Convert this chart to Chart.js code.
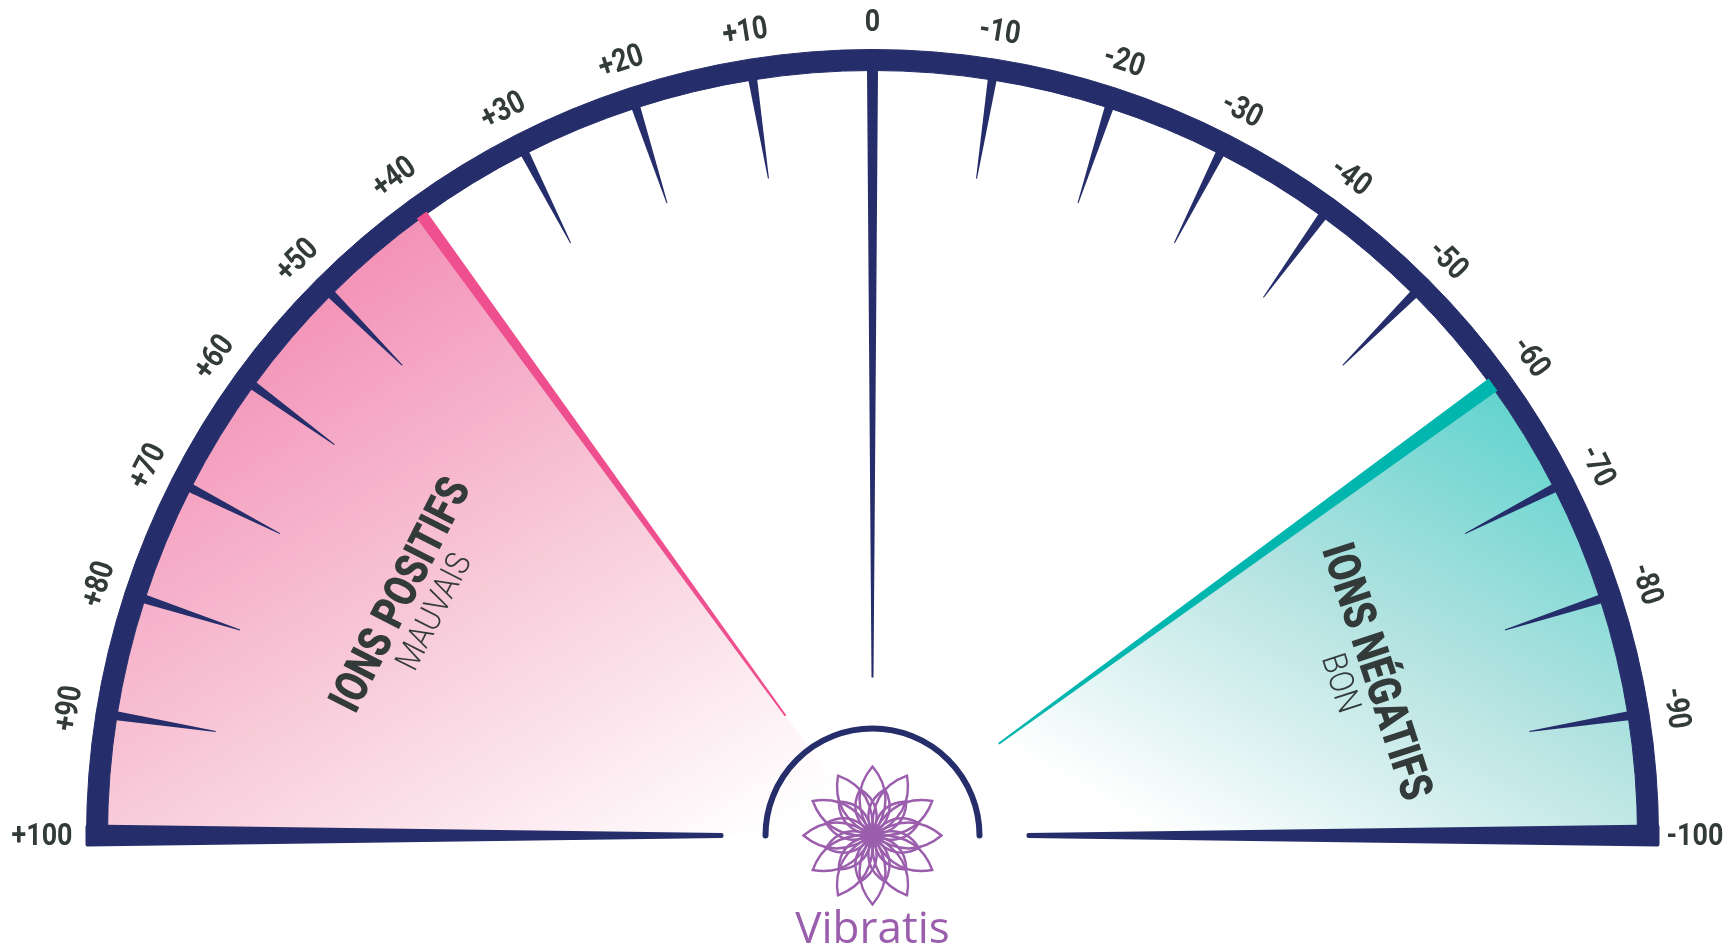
<!DOCTYPE html>
<html>
<head>
<meta charset="utf-8">
<title>Ions positifs / ions négatifs</title>
<script src="https://cdn.jsdelivr.net/npm/chart.js@4.4.1/dist/chart.umd.min.js"></script>
<style>
  html, body { margin: 0; padding: 0; background: #fff; }
  #jauge { display: block; }
</style>
</head>
<body>
<canvas id="jauge" width="1731" height="949"></canvas>
<script>
// graduations, de gauche (+100) a droite (-100)
const tickLabels = ['+100', '+90', '+80', '+70', '+60', '+50', '+40', '+30', '+20', '+10', '0',
                    '-10', '-20', '-30', '-40', '-50', '-60', '-70', '-80', '-90', '-100'];
const graduationSteps = [10, 10, 10, 10, 10, 10, 10, 10, 10, 10,
                         10, 10, 10, 10, 10, 10, 10, 10, 10, 10];
// zones : +100 -> +40, +40 -> -60, -60 -> -100
const zoneValues = [60, 100, 40];
const zoneTitles = ['IONS POSITIFS', '', 'IONS NÉGATIFS'];
const zoneSubtitles = ['MAUVAIS', '', 'BON'];
const brandName = 'Vibratis';

const NAVY = '#252d6a';
const TEXT = '#323a3a';
const PINK_LINE = '#ee4f8e';
const TEAL_LINE = '#00b6ae';
const PURPLE = '#9a5ead';
const DEG = Math.PI / 180;

const polar = (cx, cy, r, a) => ({ x: cx + r * Math.cos(a), y: cy + r * Math.sin(a) });

// trait effile le long d'un rayon
function wedge(ctx, cx, cy, a, r0, r1, w0, w1, color, rounded) {
    const p0 = polar(cx, cy, r0, a);
    const p1 = polar(cx, cy, r1, a);
    const nx = -Math.sin(a), ny = Math.cos(a);
    ctx.beginPath();
    ctx.moveTo(p0.x + nx * w0 / 2, p0.y + ny * w0 / 2);
    ctx.lineTo(p1.x + nx * w1 / 2, p1.y + ny * w1 / 2);
    ctx.lineTo(p1.x - nx * w1 / 2, p1.y - ny * w1 / 2);
    ctx.lineTo(p0.x - nx * w0 / 2, p0.y - ny * w0 / 2);
    ctx.closePath();
    ctx.fillStyle = color;
    ctx.fill();
    if (rounded) {
        ctx.save();
        ctx.strokeStyle = color;
        ctx.lineWidth = rounded;
        ctx.lineJoin = 'round';
        ctx.stroke();
        ctx.restore();
    }
}

function drawText(ctx, text, x, y, rot, size, weight, sx, color, align) {
    ctx.save();
    ctx.translate(x, y);
    ctx.rotate(rot);
    ctx.scale(sx, 1);
    ctx.font = weight + ' ' + size + 'px Roboto, "Noto Sans", sans-serif';
    ctx.fillStyle = color;
    ctx.textAlign = align || 'center';
    ctx.textBaseline = 'alphabetic';
    ctx.fillText(text, 0, size * 0.355);
    ctx.restore();
}

function petal(ctx, len, w) {
    ctx.beginPath();
    ctx.moveTo(0, 0);
    ctx.quadraticCurveTo(w, -len * 0.55, 0, -len);
    ctx.quadraticCurveTo(-w, -len * 0.55, 0, 0);
    ctx.stroke();
}

function drawLogo(ctx, cx, cy) {
    ctx.save();
    ctx.strokeStyle = NAVY;
    ctx.lineWidth = 6;
    ctx.lineCap = 'round';
    ctx.beginPath();
    ctx.arc(cx, cy, 107, Math.PI, 2 * Math.PI);
    ctx.stroke();

    ctx.translate(cx, cy);
    ctx.strokeStyle = PURPLE;
    ctx.lineWidth = 2.4;
    for (let k = 0; k < 12; k++) {
        ctx.save();
        ctx.rotate(k * 30 * DEG);
        petal(ctx, 69, 26);
        ctx.restore();
        ctx.save();
        ctx.rotate((k * 30 + 15) * DEG);
        petal(ctx, 48, 20);
        ctx.restore();
    }
    ctx.restore();

    ctx.save();
    ctx.font = '44px "Open Sans", "Noto Sans", sans-serif';
    ctx.fillStyle = PURPLE;
    ctx.textAlign = 'center';
    ctx.textBaseline = 'alphabetic';
    ctx.fillText(brandName, cx, cy + 107);
    ctx.restore();
}

const jaugePlugin = {
    id: 'jauge',
    afterDatasetsDraw(chart) {
        const ctx = chart.ctx;
        const band = chart.getDatasetMeta(0).data;
        const zones = chart.getDatasetMeta(1).data;
        const cx = band[0].x, cy = band[0].y;
        const rOut = band[0].outerRadius, rIn = band[0].innerRadius;
        const angles = [band[0].startAngle].concat(band.map(a => a.endAngle));
        const last = angles.length - 1;

        // graduations et aiguille du zero
        angles.forEach((a, i) => {
            if (i === 0 || i === last) return;
            if (tickLabels[i] === '0') wedge(ctx, cx, cy, a, rIn + 2, 158, 11, 2, NAVY);
            else wedge(ctx, cx, cy, a, rIn + 2, rIn - 100, 9, 1, NAVY);
        });

        // limites des zones
        wedge(ctx, cx, cy, zones[0].endAngle, rIn + 2, 148, 12, 2, PINK_LINE);
        wedge(ctx, cx, cy, zones[2].startAngle, rIn + 2, 156, 15, 2, TEAL_LINE);

        // lignes de base
        wedge(ctx, cx, cy, angles[0], rOut - 1, 151, 18, 1, NAVY, 4);
        wedge(ctx, cx, cy, angles[last], rOut - 1, 156, 18, 1, NAVY, 4);

        // etiquettes
        angles.forEach((a, i) => {
            if (i === 0) {
                const p = polar(cx, cy, rOut + 14, a);
                drawText(ctx, tickLabels[i], p.x, p.y - 2, 0, 32, 'bold', 0.84, TEXT, 'right');
            } else if (i === last) {
                const p = polar(cx, cy, rOut + 8, a);
                drawText(ctx, tickLabels[i], p.x, p.y - 2, 0, 32, 'bold', 0.84, TEXT, 'left');
            } else {
                const p = polar(cx, cy, rOut + 30, a);
                drawText(ctx, tickLabels[i], p.x, p.y, a + Math.PI / 2, 32, 'bold', 0.84, TEXT);
            }
        });

        // titres des zones
        zones.forEach((arc, i) => {
            if (!zoneTitles[i]) return;
            const mid = (arc.startAngle + arc.endAngle) / 2;
            const rot = mid + Math.PI / 2;
            const p = polar(cx, cy, 532, mid);
            drawText(ctx, zoneTitles[i], p.x, p.y, rot, 46, '900', 0.8, TEXT);
            const q = polar(cx, cy, 494, mid);
            drawText(ctx, zoneSubtitles[i], q.x, q.y, rot, 34, '300', 0.88, TEXT);
        });

        drawLogo(ctx, cx, cy);
    }
};

function zoneColor(context) {
    const area = context.chart.chartArea;
    if (!area || context.type !== 'data' || context.dataIndex === 1) return 'rgba(255,255,255,0)';
    const ctx = context.chart.ctx;
    const cx = (area.left + area.right) / 2, cy = area.bottom;
    const R = (area.right - area.left) / 2;
    let s, e, g;
    if (context.dataIndex === 0) {
        s = polar(cx, cy, 0.98 * R, -128 * DEG);
        e = polar(cx, cy, 0.13 * R, -176 * DEG);
        g = ctx.createLinearGradient(s.x, s.y, e.x, e.y);
        g.addColorStop(0, '#f391b7');
        g.addColorStop(0.5, '#f8cbd9');
        g.addColorStop(1, '#ffffff');
    } else {
        s = polar(cx, cy, 0.96 * R, -42 * DEG);
        e = polar(cx, cy, 0.36 * R, -1 * DEG);
        g = ctx.createLinearGradient(s.x, s.y, e.x, e.y);
        g.addColorStop(0, '#5cd2cd');
        g.addColorStop(0.5, '#b4e3e1');
        g.addColorStop(1, '#ffffff');
    }
    return g;
}

new Chart(document.getElementById('jauge'), {
    type: 'doughnut',
    data: {
        datasets: [{
            label: 'Graduations',
            data: graduationSteps,
            backgroundColor: NAVY,
            borderColor: NAVY,
            borderWidth: 1,
            hoverBorderWidth: 1,
            weight: 21
        }, {
            label: 'Zones',
            data: zoneValues,
            backgroundColor: zoneColor,
            borderWidth: 0,
            hoverBorderWidth: 0,
            weight: 765
        }]
    },
    options: {
        responsive: false,
        devicePixelRatio: 1,
        animation: false,
        events: [],
        rotation: -90,
        circumference: 180,
        cutout: 0,
        layout: { padding: { left: 86, right: 72, top: 49, bottom: 113 } },
        plugins: { legend: { display: false }, tooltip: { enabled: false } }
    },
    plugins: [jaugePlugin]
});
</script>
</body>
</html>
